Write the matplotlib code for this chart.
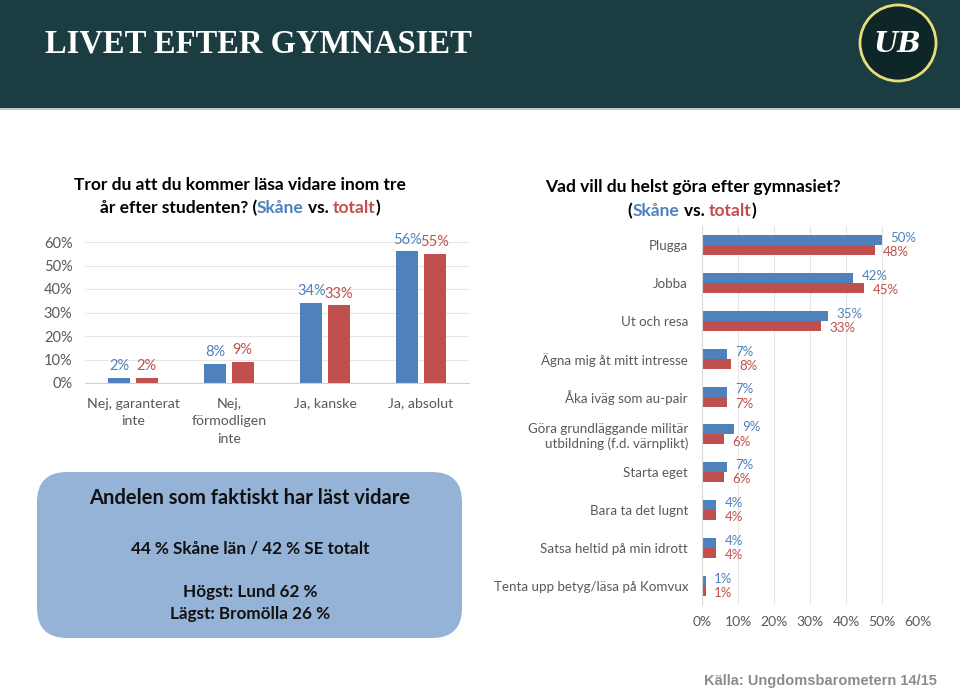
import matplotlib
matplotlib.use("Agg")
import matplotlib.pyplot as plt
from matplotlib.patches import FancyBboxPatch, Rectangle, Circle
import numpy as np

BLUE = "#4f81bd"
RED = "#c0504d"
GRAY = "#595959"
FONT = "Lato"

# ---- data: left chart ----
q1_categories = ["Nej, garanterat\ninte", "Nej,\nförmodligen\ninte", "Ja, kanske", "Ja, absolut"]
q1_skane = [2, 8, 34, 56]
q1_totalt = [2, 9, 33, 55]
q1_ticks = [0, 10, 20, 30, 40, 50, 60]

# ---- data: right chart ----
q2_categories = ["Plugga", "Jobba", "Ut och resa", "Ägna mig åt mitt intresse",
                 "Åka iväg som au-pair",
                 "Göra grundläggande militär\nutbildning (f.d. värnplikt)",
                 "Starta eget", "Bara ta det lugnt", "Satsa heltid på min idrott",
                 "Tenta upp betyg/läsa på Komvux"]
q2_skane = [50, 42, 35, 7, 7, 9, 7, 4, 4, 1]
q2_totalt = [48, 45, 33, 8, 7, 6, 6, 4, 4, 1]
q2_ticks = [0, 10, 20, 30, 40, 50, 60]

fig = plt.figure(figsize=(9.6, 6.91), dpi=100)
fig.patch.set_facecolor("white")
bg = fig.add_axes([0, 0, 1, 1], zorder=0)
bg.set_xlim(0, 960)
bg.set_ylim(691, 0)
bg.axis("off")

# header
bg.add_patch(Rectangle((0, 0), 960, 108, color="#1b3d41", lw=0))
bg.add_patch(Rectangle((0, 108), 960, 2, color="#c8c8c8", lw=0))
bg.text(45, 44, "LIVET EFTER GYMNASIET", family="Liberation Serif", weight="bold",
        size=23.5, color="white", va="center", ha="left")
bg.add_patch(Circle((898, 43), 38, fc="#0e2628", ec="#e4de7c", lw=2))
bg.text(898, 44, "UB", family="DejaVu Serif", style="italic", weight="bold",
        size=20, color="white", ha="center", va="center")

renderer = fig.canvas.get_renderer()


def text_width(s, size, weight):
    t = bg.text(0, 0, s, size=size, weight=weight, family=FONT)
    w = t.get_window_extent(renderer).width
    t.remove()
    return w


def rich_line(xc, y, parts, size=12.5, weight="bold"):
    full = "".join(p for p, _ in parts)
    sw = text_width("a a", size, weight) - text_width("aa", size, weight)

    def pw(s):
        st = s.rstrip(" ")
        return (text_width(st, size, weight) if st else 0) + (len(s) - len(st)) * sw

    x0 = xc - text_width(full, size, weight) / 2
    prefix = ""
    for txt, col in parts:
        lead = len(txt) - len(txt.lstrip(" "))
        prefix += txt[:lead]
        body = txt.lstrip(" ")
        bg.text(x0 + pw(prefix), y, body, size=size, weight=weight, family=FONT,
                color=col, ha="left", va="center")
        prefix += body


# titles
rich_line(240, 185, [("Tror du att du kommer läsa vidare inom tre", "black")])
rich_line(240, 208, [("år efter studenten? (", "black"), ("Skåne", BLUE), (" vs. ", "black"),
                     ("totalt", RED), (")", "black")])
rich_line(693, 187, [("Vad vill du helst göra efter gymnasiet?", "black")])
rich_line(692, 211, [("(", "black"), ("Skåne", BLUE), (" vs. ", "black"),
                     ("totalt", RED), (")", "black")])

# ---- left chart ----
ax1 = fig.add_axes([85 / 960, (691 - 383) / 691, 384 / 960, 141 / 691], zorder=1)
ax1.patch.set_alpha(0)
x = np.arange(len(q1_categories))
off, w = 0.142, 0.23
ax1.bar(x - off, q1_skane, w, color=BLUE, zorder=2)
ax1.bar(x + off, q1_totalt, w, color=RED, zorder=2)
ax1.set_xlim(-0.5, 3.5)
ax1.set_ylim(0, 60)
ax1.set_yticks(q1_ticks, [f"{t}%" for t in q1_ticks])
ax1.set_xticks(x, q1_categories)
ax1.yaxis.grid(True, color="#e6e6e6", lw=0.8)
ax1.set_axisbelow(True)
for s in ["top", "right", "left"]:
    ax1.spines[s].set_visible(False)
ax1.spines["bottom"].set_color("#d0d0d0")
ax1.tick_params(axis="both", length=0, labelcolor=GRAY)
ax1.tick_params(axis="y", pad=9, labelsize=10.5)
ax1.tick_params(axis="x", pad=10.5, labelsize=10.2)
for lbl in ax1.get_xticklabels():
    lbl.set_family(FONT)
    lbl.set_linespacing(1.55)
for lbl in ax1.get_yticklabels():
    lbl.set_family(FONT)
for xi, v in zip(x, q1_skane):
    ax1.annotate(f"{v}%", (xi - off, v), xytext=(0, 3.5), textcoords="offset points",
                 ha="center", va="bottom", color=BLUE, size=10.5, family=FONT)
for xi, v in zip(x, q1_totalt):
    ax1.annotate(f"{v}%", (xi + off, v), xytext=(0, 3.5), textcoords="offset points",
                 ha="center", va="bottom", color=RED, size=10.5, family=FONT)

# ---- right chart ----
ax2 = fig.add_axes([702 / 960, (691 - 605) / 691, 216 / 960, 379 / 691], zorder=1)
ax2.patch.set_alpha(0)
y = np.arange(len(q2_categories))
h = 0.265
ax2.barh(y - h / 2, q2_skane, h, color=BLUE, zorder=2)
ax2.barh(y + h / 2, q2_totalt, h, color=RED, zorder=2)
ax2.set_ylim(9.5, -0.5)
ax2.set_xlim(0, 60)
ax2.set_xticks(q2_ticks, [f"{t}%" for t in q2_ticks])
ax2.set_yticks(y, q2_categories)
ax2.xaxis.grid(True, color="#e6e6e6", lw=0.8)
ax2.set_axisbelow(True)
for s in ["top", "right", "bottom"]:
    ax2.spines[s].set_visible(False)
ax2.spines["left"].set_color("#d9d9d9")
ax2.tick_params(axis="both", length=0, labelcolor=GRAY, labelsize=10)
ax2.tick_params(axis="y", pad=10, labelsize=9.6)
ax2.tick_params(axis="x", pad=8)
for lbl in ax2.get_xticklabels() + ax2.get_yticklabels():
    lbl.set_family(FONT)
for yi, v in zip(y, q2_skane):
    ax2.annotate(f"{v}%", (v, yi - h / 2), xytext=(6, 1.5), textcoords="offset points",
                 ha="left", va="center", color=BLUE, size=9.5, family=FONT)
for yi, v in zip(y, q2_totalt):
    ax2.annotate(f"{v}%", (v, yi + h / 2), xytext=(6, -1.5), textcoords="offset points",
                 ha="left", va="center", color=RED, size=9.5, family=FONT)

# ---- info box ----
bg.add_patch(FancyBboxPatch((37, 472), 425, 166, boxstyle="round,pad=0,rounding_size=30",
                            fc="#95b3d7", ec="none"))
bg.text(250, 498, "Andelen som faktiskt har läst vidare", ha="center", va="center",
        family=FONT, weight="bold", size=14.5, color="#111111")
bg.text(250, 548, "44 % Skåne län / 42 % SE totalt", ha="center", va="center",
        family=FONT, weight="bold", size=12.3, color="#111111")
bg.text(250, 592, "Högst: Lund 62 %", ha="center", va="center",
        family=FONT, weight="bold", size=12.3, color="#111111")
bg.text(250, 614, "Lägst: Bromölla 26 %", ha="center", va="center",
        family=FONT, weight="bold", size=12.3, color="#111111")

# footer
bg.text(937, 681, "Källa: Ungdomsbarometern 14/15", ha="right", va="center",
        family="Liberation Sans", weight="bold", size=10.5, color="#8c8c8c")

fig.savefig("out.png", dpi=100)
